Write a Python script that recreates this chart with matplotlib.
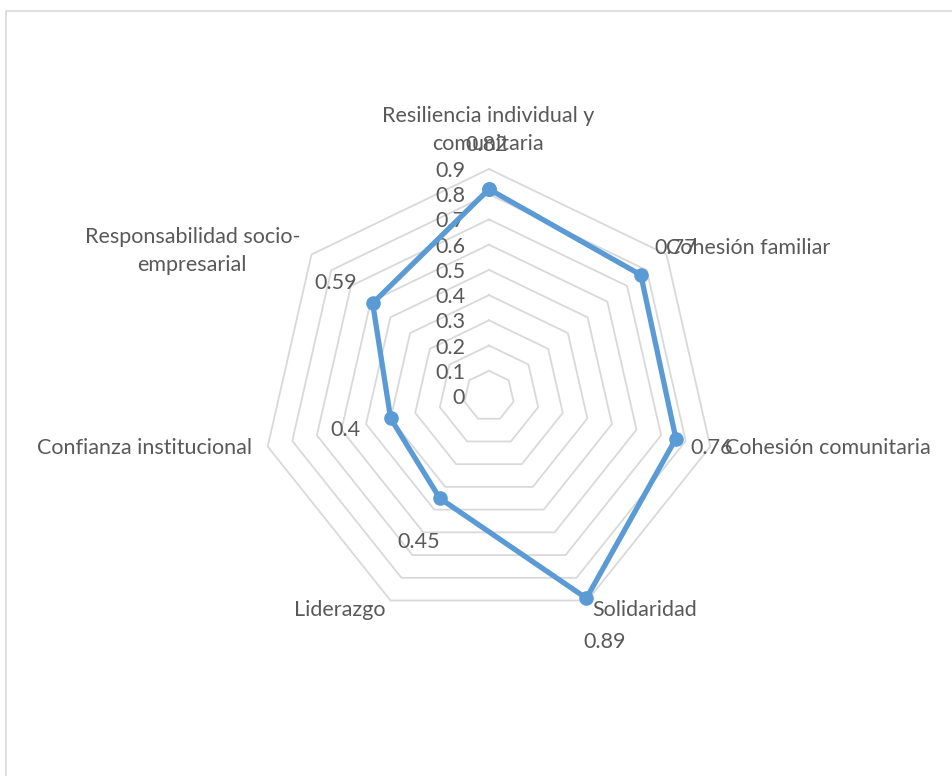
import numpy as np
import matplotlib
matplotlib.use("Agg")
import matplotlib.pyplot as plt
from matplotlib.patches import Rectangle

categories = ["Resiliencia individual y\ncomunitaria", "Cohesión familiar", "Cohesión comunitaria",
              "Solidaridad", "Liderazgo", "Confianza institucional",
              "Responsabilidad socio-\nempresarial"]
values = [0.82, 0.77, 0.76, 0.89, 0.45, 0.40, 0.59]
levels = [0.1, 0.2, 0.3, 0.4, 0.5, 0.6, 0.7, 0.8, 0.9]
level_labels = ["0", "0.1", "0.2", "0.3", "0.4", "0.5", "0.6", "0.7", "0.8", "0.9"]

plt.rcParams['font.family'] = ['Lato', 'DejaVu Sans']
TXT = "#595959"
BLUE = "#5B9BD5"
GRID = "#D9D9D9"
FS = 15.5

W, H = 952, 776
fig = plt.figure(figsize=(W / 100, H / 100), dpi=100)

# outer chart frame (runs off the right/bottom edge like the source)
fig.patches.append(Rectangle((5.5 / W, -0.05), 1.1, 1.05 - 11 / H, transform=fig.transFigure,
                             fill=False, edgecolor=GRID, lw=1.2))

cx, cy, R = 489, 396, 227
ax = fig.add_axes([(cx - R) / W, (H - cy - R) / H, 2 * R / W, 2 * R / H], projection="polar")
ax.set_theta_zero_location("N")
ax.set_theta_direction(-1)
ax.set_ylim(0, 0.9)
ax.grid(False)
ax.spines["polar"].set_visible(False)
ax.set_xticks([])
ax.set_yticks([])
ax.patch.set_alpha(0)

n = len(categories)
theta = np.arange(n) * 2 * np.pi / n
tc = np.append(theta, theta[0])

# polygon gridlines
for lv in levels:
    ax.plot(tc, [lv] * (n + 1), color=GRID, lw=1.3, zorder=1, clip_on=False)

# radial value labels
for i, lab in enumerate(level_labels):
    ax.annotate(lab, (0, i * 0.1), xytext=(-24, -2), textcoords="offset pixels",
                ha="right", va="center", fontsize=FS, color=TXT, annotation_clip=False)

# series
vc = values + values[:1]
ax.plot(tc, vc, color=BLUE, lw=3.8, marker="o", markersize=9.5, zorder=3, clip_on=False)

# category labels
cat_offsets = [(-1, 39), (0, 6), (15, -1.5), (4.5, -9.5), (-5.5, -9.5), (-15.7, -1.5), (-11.5, 3.5)]
cat_ha = ["center", "left", "left", "left", "right", "right", "right"]
for i, lab in enumerate(categories):
    ax.annotate(lab, (theta[i], 0.9), xytext=cat_offsets[i], textcoords="offset pixels",
                ha=cat_ha[i], va="center", multialignment="center", fontsize=FS,
                color=TXT, linespacing=1.45, annotation_clip=False)

# data labels
val_offsets = [(-2, 44), (35, 27), (36, -9), (18, -44), (-21, -44), (-45, -12), (-37, 20)]
for i, v in enumerate(values):
    ax.annotate(f"{v:g}", (theta[i], v), xytext=val_offsets[i], textcoords="offset pixels",
                ha="center", va="center", fontsize=FS, color=TXT, annotation_clip=False)

fig.savefig("out.png", dpi=100)
